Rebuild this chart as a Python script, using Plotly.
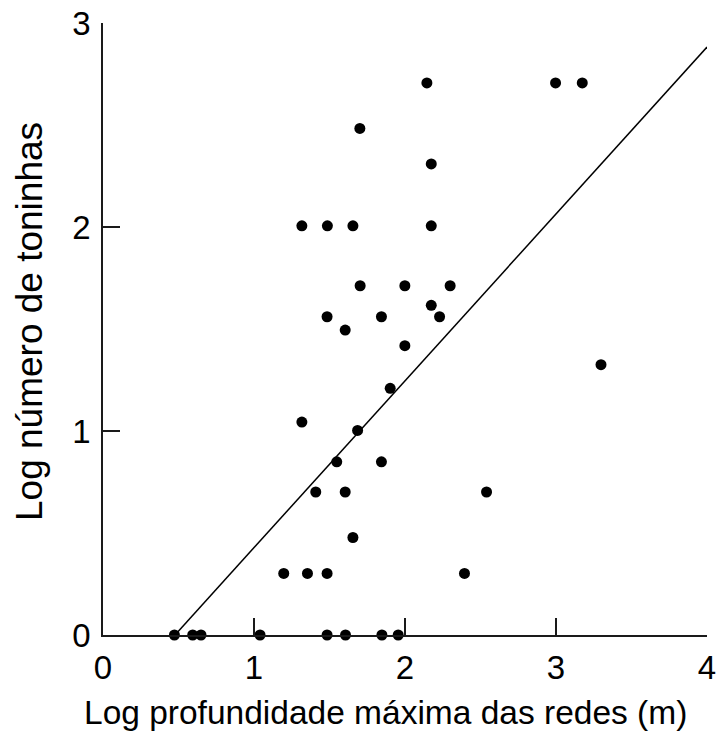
import plotly.graph_objects as go

# Log max net depth (x) and log number of porpoises (y) per record
log_depth = [
    0.473, 0.594, 0.649, 1.040, 1.484, 1.606, 1.847, 1.955,
    1.197, 1.354, 1.484, 2.394,
    1.655,
    1.409, 1.604, 2.540,
    1.548, 1.844,
    1.686, 1.317, 1.902, 3.298, 1.999, 1.604,
    1.484, 1.844, 2.229,
    2.174,
    1.703, 1.999, 2.299,
    1.317, 1.486, 1.655, 2.174,
    2.174, 1.701,
    2.145, 2.997, 3.174,
]
log_count = [
    0.0, 0.0, 0.0, 0.0, 0.0, 0.0, 0.0, 0.0,
    0.302, 0.302, 0.302, 0.302,
    0.478,
    0.701, 0.701, 0.701,
    0.849, 0.849,
    1.003, 1.044, 1.209, 1.325, 1.418, 1.495,
    1.560, 1.560, 1.560,
    1.616,
    1.712, 1.712, 1.712,
    2.006, 2.006, 2.006, 2.006,
    2.309, 2.483,
    2.706, 2.706, 2.706,
]

# Fitted line y = slope * x + intercept, drawn over its positive part
slope = 0.818
intercept = -0.390
fit_x = [-intercept / slope, 4.0]
fit_y = [slope * v + intercept for v in fit_x]

x_ticks = [0, 1, 2, 3, 4]
y_ticks = [0, 1, 2, 3]

x_title = "Log profundidade máxima das redes (m)"
y_title = "Log número de toninhas"

fig = go.Figure()
fig.add_trace(go.Scatter(
    x=fit_x, y=fit_y, mode="lines",
    line=dict(color="black", width=1.5),
    hoverinfo="skip", showlegend=False,
))
fig.add_trace(go.Scatter(
    x=log_depth, y=log_count, mode="markers",
    marker=dict(color="black", size=11),
    showlegend=False, cliponaxis=False,
))

font_family = "Liberation Sans, Arial, sans-serif"
L, R, T, B = 103, 11, 23, 98
W, H = 718, 733
pw, ph = W - L - R, H - T - B

fig.update_layout(
    width=W, height=H,
    margin=dict(l=L, r=R, t=T, b=B, autoexpand=False),
    paper_bgcolor="white", plot_bgcolor="white",
    font=dict(family=font_family, color="black"),
    annotations=[
        dict(text=x_title, xref="paper", yref="paper",
             x=(385 - L) / pw, y=-(712 - (H - B)) / ph,
             xanchor="center", yanchor="middle", showarrow=False,
             font=dict(size=33.5, family=font_family, color="black")),
        dict(text=y_title, xref="paper", yref="paper",
             x=-(L - 29) / pw, y=(H - B - 322) / ph, textangle=-90,
             xanchor="center", yanchor="middle", showarrow=False,
             font=dict(size=37, family=font_family, color="black")),
    ],
)
fig.update_xaxes(
    range=[0, 4], tickvals=x_ticks, ticktext=[str(v) for v in x_ticks],
    showgrid=False, zeroline=False,
    showline=True, linecolor="#1a1a1a", linewidth=1.5,
    ticks="inside", ticklen=17, tickwidth=1.5, tickcolor="#1a1a1a",
    tickfont=dict(size=33), ticklabelstandoff=3,
    automargin=False,
)
fig.update_yaxes(
    range=[0, 3], tickvals=y_ticks, ticktext=[str(v) for v in y_ticks],
    showgrid=False, zeroline=False,
    showline=True, linecolor="#1a1a1a", linewidth=1.5,
    ticks="inside", ticklen=17, tickwidth=1.5, tickcolor="#1a1a1a",
    tickfont=dict(size=33), ticklabelstandoff=4,
    automargin=False,
)

fig.write_html("out.html")
